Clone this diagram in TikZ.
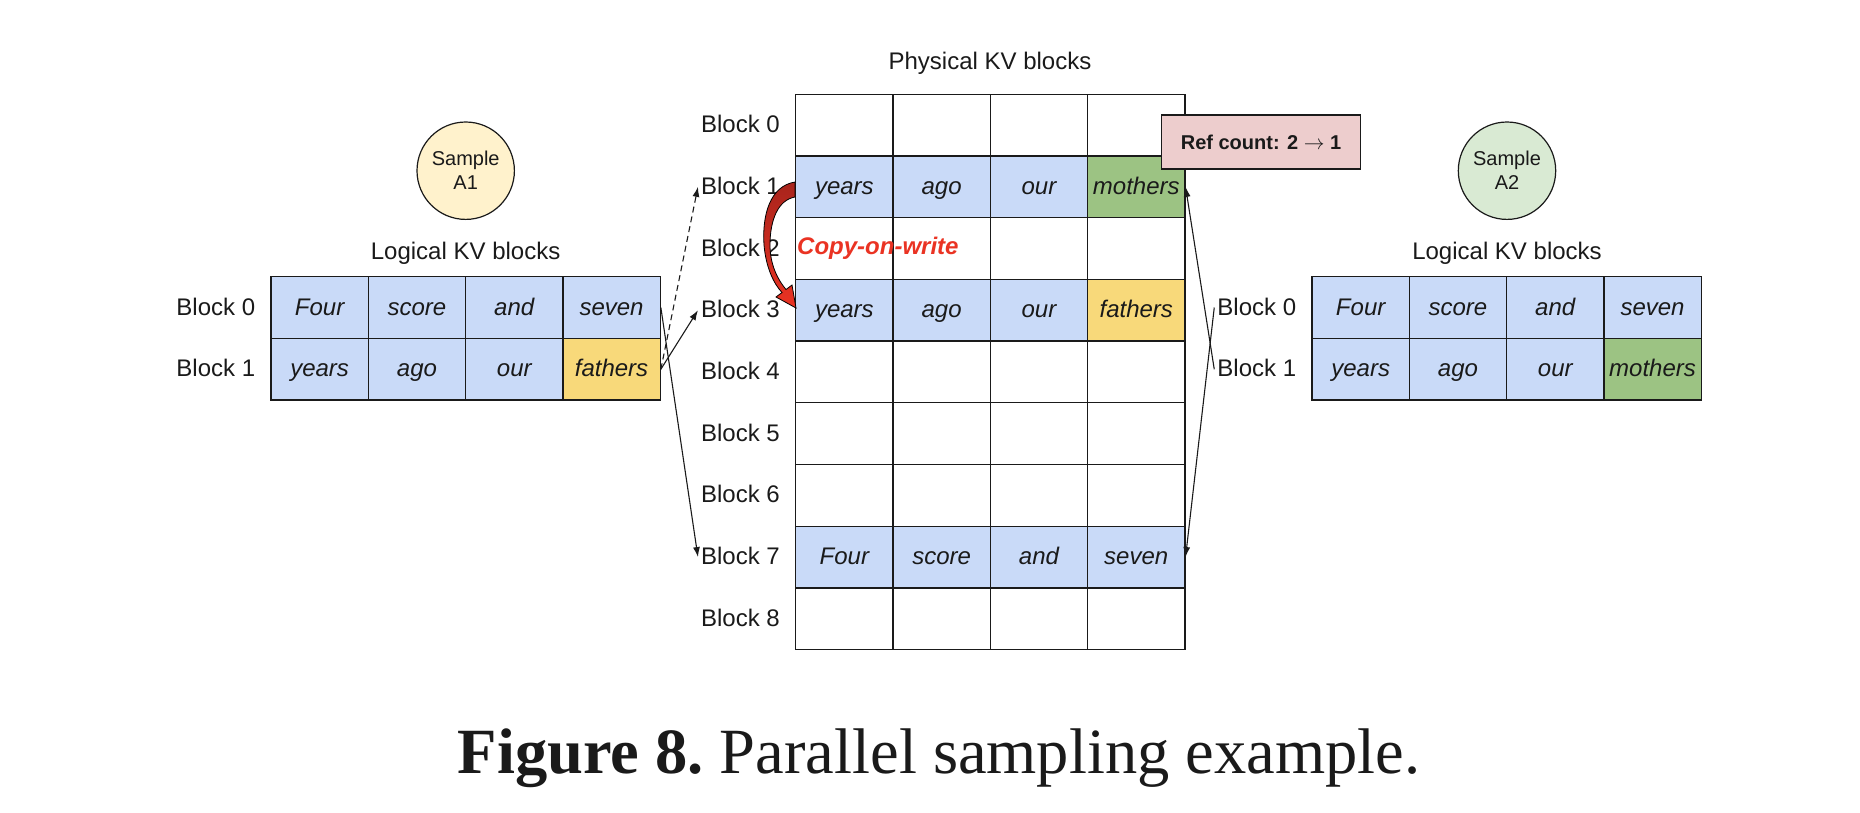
\documentclass[tikz,border=0pt]{standalone}
\usepackage{fontspec}
\setmainfont{Liberation Sans}
\newfontfamily\capfont{Liberation Serif}
\usetikzlibrary{positioning,arrows.meta}
\definecolor{ink}{HTML}{1A1A1A}
\definecolor{kvblue}{HTML}{C9DAF8}
\definecolor{kvyel}{HTML}{F8D97A}
\definecolor{kvgrn}{HTML}{9CC383}
\definecolor{smpyel}{HTML}{FFF2CC}
\definecolor{smpgrn}{HTML}{D9EAD3}
\definecolor{refpink}{HTML}{EDCDCD}
\definecolor{cowred}{HTML}{EA3323}
\definecolor{cowdark}{HTML}{A8241C}
\newcommand{\kvrow}[4]{%
  \foreach \w/\f [count=\k] in {#4}{%
    \node[cell,fill=\f] (#1-\k) at ({#2+(\k-0.5)*97.3},{#3+30.85}) {\w};}%
}

\begin{document}
\begin{tikzpicture}[x=1pt,y=-1pt,font=\fontsize{24}{28}\selectfont,text=ink,
  cell/.style={draw=ink,line width=1.3pt,minimum width=97.3pt,minimum height=61.7pt,
    inner sep=0pt,text height=17pt,text depth=2pt,font=\fontsize{24}{28}\selectfont\itshape},
  lbl/.style={inner sep=3pt,text height=17pt,text depth=2pt},
  smp/.style={circle,draw=ink,line width=1.2pt,minimum size=97.4pt,inner sep=0pt,
    align=center,font=\fontsize{20}{24}\selectfont},
  link/.style={-{Latex[length=10pt,width=7pt]},line width=1.1pt,draw=ink},
  node distance=12pt]
\useasboundingbox (0,0) rectangle (1860,812);
% physical KV blocks, rows 94.3 + 61.7*r
\foreach \r in {0,2,4,5,6,8}{%
  \kvrow{p\r}{795.7}{94.3+61.7*\r}{/white,/white,/white,/white}}
\kvrow{p1}{795.7}{156.0}{years/kvblue,ago/kvblue,our/kvblue,mothers/kvgrn}
\kvrow{p3}{795.7}{279.4}{years/kvblue,ago/kvblue,our/kvblue,fathers/kvyel}
\kvrow{p7}{795.7}{526.2}{Four/kvblue,score/kvblue,and/kvblue,seven/kvblue}
\foreach \r in {0,...,8}
  \node[lbl,left=12pt of p\r-1] (pb\r) {Block \r};
\node (ptitle) at (990,63) {Physical KV blocks};
\node[draw=ink,line width=1.3pt,fill=refpink,minimum width=199pt,minimum height=54pt,
  font=\fontsize{20}{24}\selectfont\bfseries] (ref) at (1261,142)
  {Ref count: 2 $\rightarrow$ 1};

% sample A1
\node[smp,fill=smpyel] (sa1) at (465.7,170.7) {Sample\\A1};
\node (ltitle) at (465.6,253) {Logical KV blocks};
\kvrow{la0}{271}{276.7}{Four/kvblue,score/kvblue,and/kvblue,seven/kvblue}
\kvrow{la1}{271}{338.4}{years/kvblue,ago/kvblue,our/kvblue,fathers/kvyel}
\node[lbl,left=12pt of la0-1] (lb0) {Block 0};
\node[lbl,left=12pt of la1-1] (lb1) {Block 1};

% sample A2
\node[smp,fill=smpgrn] (sa2) at (1507,170.7) {Sample\\A2};
\node (rtitle) at (1507,253) {Logical KV blocks};
\kvrow{ra0}{1312}{276.7}{Four/kvblue,score/kvblue,and/kvblue,seven/kvblue}
\kvrow{ra1}{1312}{338.4}{years/kvblue,ago/kvblue,our/kvblue,mothers/kvgrn}
\node[lbl,left=12pt of ra0-1] (rb0) {Block 0};
\node[lbl,left=12pt of ra1-1] (rb1) {Block 1};

% block tables
\draw[link,dash pattern=on 6pt off 4pt] (la1-4.east) -- (pb1.west);
\draw[link] (la1-4.east) -- (pb3.west);
\draw[link] (la0-4.east) -- (pb7.west);
\draw[link] (rb0.west) -- (p7-4.east);
\draw[link] (rb1.west) -- (p1-4.east);

% copy-on-write
\shade[top color=cowdark,bottom color=cowred,draw=black,line width=0.8pt]
  (795,182) .. controls (770,186) and (762,215) .. (764,245)
  .. controls (766,268) and (774,284) .. (782,292.5)
  -- (776,297) -- (796,308) -- (792,285) -- (786,289.5)
  .. controls (778,280) and (770,265) .. (770,245)
  .. controls (770,220) and (778,200) .. (795,197) -- cycle;
\node[anchor=west,inner sep=0pt,text=cowred,font=\fontsize{24}{28}\selectfont\bfseries\itshape]
  (cow) at (797,248) {Copy-on-write};

\node[anchor=base,font=\capfont\fontsize{64.5}{72}\selectfont\frenchspacing] (cap) at (939,773)
  {\textbf{Figure 8.} Parallel sampling example.};
\end{tikzpicture}
\end{document}
